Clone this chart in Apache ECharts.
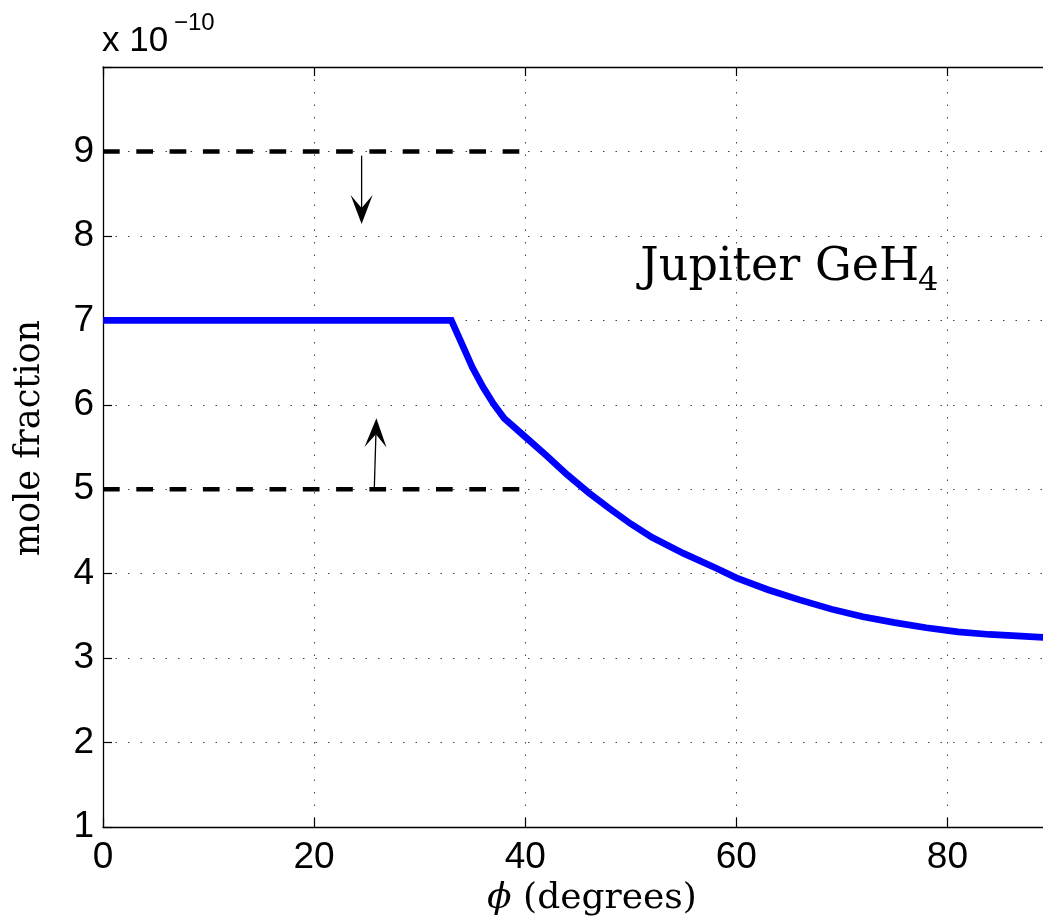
<!DOCTYPE html>
<html>
<head>
<meta charset="utf-8">
<title>Jupiter GeH4</title>
<script src="https://cdn.jsdelivr.net/npm/echarts/dist/echarts.min.js"></script>
<style>
  html, body { margin: 0; padding: 0; background: #fff; }
  #chart { width: 1043px; height: 924px; }
</style>
</head>
<body>
<div id="chart"></div>
<script>
// latitude (degrees) and GeH4 mole fraction (units of 1e-10)
var phi  = [0, 33, 34, 35, 36, 37, 38, 40, 42, 44, 46, 48, 50, 52, 55, 58, 60, 63, 66, 69, 72, 75, 78, 81, 84, 87, 90];
var mole = [7.0, 7.0, 6.72, 6.44, 6.21, 6.01, 5.84, 5.62, 5.40, 5.17, 4.96, 4.77, 4.59, 4.43, 4.24, 4.07, 3.95, 3.81, 3.69, 3.58, 3.49, 3.42, 3.36, 3.31, 3.28, 3.26, 3.24];

// upper / lower limit lines
var limitPhi = [0, 40];
var upperLimit = [9, 9];
var lowerLimit = [5, 5];

// arrows: [x0, y0, x1, y1] (tail -> head)
var arrows = [
  [24.5, 8.95, 24.5, 8.14],
  [25.7, 5.0, 25.9, 5.84]
];

var xTicks = [0, 20, 40, 60, 80];
var yTicks = [1, 2, 3, 4, 5, 6, 7, 8, 9];

function pairs(xs, ys) {
  var out = [];
  for (var i = 0; i < xs.length; i++) out.push([xs[i], ys[i]]);
  return out;
}

var sans = 'Liberation Sans';
var serif = 'DejaVu Serif';

var chart = echarts.init(document.getElementById('chart'));

var option = {
  animation: false,
  backgroundColor: '#fff',
  // plot runs to phi = 90 just past the right edge of the picture
  grid: { left: 103, top: 67, width: 950, bottom: 97, outerBoundsMode: 'none', containLabel: false },
  xAxis: [{
    type: 'value', min: 0, max: 90, interval: 20,
    name: '{i|ϕ} (degrees)',
    nameLocation: 'middle', nameGap: 49,
    nameTextStyle: {
      fontFamily: serif, fontSize: 36, color: '#000', padding: [0, 0, 0, 28],
      rich: { i: { fontFamily: serif, fontStyle: 'italic', fontSize: 36, color: '#000' } }
    },
    axisLine: { show: true, lineStyle: { color: '#000', width: 1.3 } },
    axisTick: { inside: true, length: 9, lineStyle: { color: '#000', width: 1.2 } },
    axisLabel: {
      fontFamily: sans, fontSize: 37, color: '#000', margin: 12,
      formatter: function (v) { return xTicks.indexOf(v) >= 0 ? String(v) : ''; }
    },
    splitLine: { show: true, lineStyle: { color: '#444', width: 1, type: [1.5, 11] } }
  }, {
    type: 'value', min: 0, max: 90, interval: 20, position: 'top',
    axisLine: { show: true, lineStyle: { color: '#000', width: 1.3 } },
    axisTick: { inside: true, length: 9, lineStyle: { color: '#000', width: 1.2 } },
    axisLabel: { show: false },
    splitLine: { show: false }
  }],
  yAxis: [{
    type: 'value', min: 1, max: 10, interval: 1,
    name: 'mole fraction',
    nameLocation: 'middle', nameGap: 56, nameRotate: 90,
    nameTextStyle: { fontFamily: serif, fontSize: 35, color: '#000', padding: [0, 0, 0, 18] },
    axisLine: { show: true, lineStyle: { color: '#000', width: 1.3 } },
    axisTick: { inside: true, length: 9, lineStyle: { color: '#000', width: 1.2 } },
    axisLabel: {
      fontFamily: sans, fontSize: 37, color: '#000', margin: 9,
      formatter: function (v) { return yTicks.indexOf(v) >= 0 ? String(v) : ''; }
    },
    splitLine: { show: true, lineStyle: { color: '#444', width: 1, type: [1.5, 11] } }
  }],
  series: [{
    type: 'line', name: 'upper',
    data: pairs(limitPhi, upperLimit),
    showSymbol: false, symbol: 'none',
    lineStyle: { color: '#000', width: 4.5, type: [16.7, 16.6], cap: 'butt' },
    z: 3
  }, {
    type: 'line', name: 'lower',
    data: pairs(limitPhi, lowerLimit),
    showSymbol: false, symbol: 'none',
    lineStyle: { color: '#000', width: 4.5, type: [16.7, 16.6], cap: 'butt' },
    z: 3
  }, {
    type: 'line', name: 'GeH4',
    data: pairs(phi, mole),
    showSymbol: false, symbol: 'none',
    lineStyle: { color: '#0000ff', width: 6.7, join: 'miter' },
    z: 4
  }, {
    type: 'custom', name: 'arrows',
    data: arrows,
    encode: { x: [0, 2], y: [1, 3] },
    z: 5,
    renderItem: function (params, api) {
      var p0 = api.coord([api.value(0), api.value(1)]);
      var p1 = api.coord([api.value(2), api.value(3)]);
      var dx = p1[0] - p0[0], dy = p1[1] - p0[1];
      var len = Math.sqrt(dx * dx + dy * dy);
      var ux = dx / len, uy = dy / len;
      var nx = -uy, ny = ux;
      var headLen = 29, headW = 11, notch = 16;
      var back = [p1[0] - ux * headLen, p1[1] - uy * headLen];
      var mid = [p1[0] - ux * notch, p1[1] - uy * notch];
      return {
        type: 'group',
        children: [{
          type: 'line',
          shape: { x1: p0[0], y1: p0[1], x2: mid[0], y2: mid[1] },
          style: { stroke: '#000', lineWidth: 1.3 }
        }, {
          type: 'polygon',
          shape: { points: [
            p1,
            [back[0] + nx * headW, back[1] + ny * headW],
            mid,
            [back[0] - nx * headW, back[1] - ny * headW]
          ] },
          style: { fill: '#000' }
        }]
      };
    }
  }],
  graphic: [{
    type: 'text', left: 102, top: 24,
    style: { text: 'x 10', fontFamily: sans, fontSize: 35, fill: '#000' }
  }, {
    type: 'text', left: 174, top: 11,
    style: { text: '−10', fontFamily: sans, fontSize: 24, fill: '#000' }
  }, {
    type: 'text', z: 10,
    style: { text: 'Jupiter GeH', x: 919, y: 268, align: 'right', verticalAlign: 'middle',
             fontFamily: serif, fontSize: 46, fill: '#000' }
  }, {
    type: 'text', z: 10,
    style: { text: '4', x: 918, y: 282, align: 'left', verticalAlign: 'middle',
             fontFamily: serif, fontSize: 32, fill: '#000' }
  }]
};

chart.setOption(option);
</script>
</body>
</html>
